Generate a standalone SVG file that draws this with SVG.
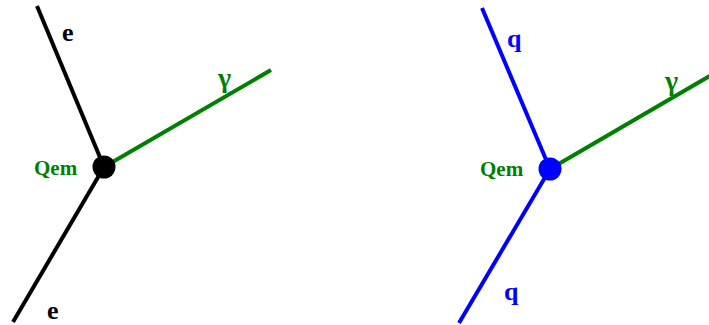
<svg xmlns="http://www.w3.org/2000/svg" width="709" height="325" viewBox="0 0 709 325">
<style>
.l{stroke-width:4;fill:none;stroke-linecap:butt}
.k{stroke:#000}
.b{stroke:#0000ff}
.g{stroke:#008000}
text{font-family:"Liberation Serif","Times New Roman",serif;font-weight:bold}
.lab{font-size:26px}
.gam{font-size:28px}
.q{font-size:21px;fill:#008000}
</style>
<rect width="709" height="325" fill="#fff"/>
<g id="connectors">
<line class="l k" x1="37" y1="6" x2="104" y2="167"/>
<line class="l k" x1="104" y1="167" x2="13" y2="322"/>
<line class="l g" x1="104" y1="167" x2="271" y2="70"/>
<line class="l b" x1="482" y1="8" x2="550" y2="169"/>
<line class="l b" x1="550" y1="169" x2="459" y2="323"/>
<line class="l g" x1="550" y1="169" x2="720" y2="70"/>
</g>
<g id="vertex1">
<circle cx="104" cy="167" r="11.5" fill="#000"/>
<text class="q" x="34" y="175">Qem</text>
</g>
<g id="vertex2">
<circle cx="550" cy="169" r="11.5" fill="#0000ff"/>
<text class="q" x="480" y="176">Qem</text>
</g>
<g id="labels">
<text class="lab" x="62" y="41" fill="#000">e</text>
<text class="lab" x="47" y="319" fill="#000">e</text>
<text class="lab gam" x="218" y="87" fill="#008000">γ</text>
<text class="lab" x="507" y="47" fill="#0000ff">q</text>
<text class="lab" x="504" y="300" fill="#0000ff">q</text>
<text class="lab gam" x="665" y="90" fill="#008000">γ</text>
</g>
</svg>
